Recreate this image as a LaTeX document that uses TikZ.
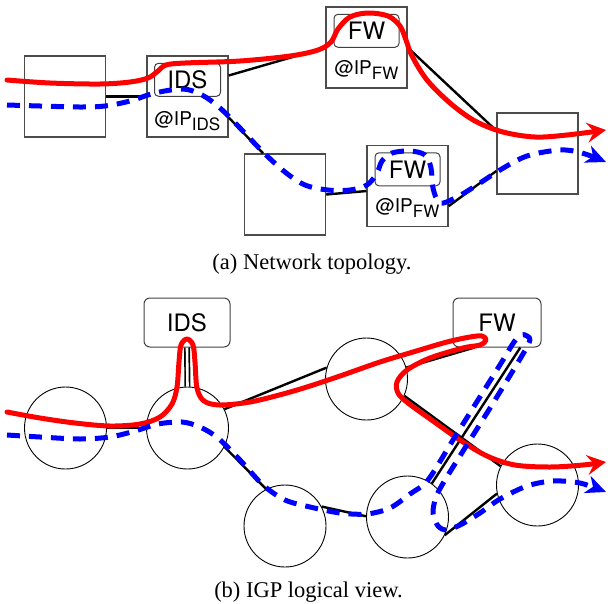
\documentclass[tikz,border=0pt]{standalone}
\usepackage{fontspec}
\setmainfont{Liberation Serif}
\newfontfamily\hv{TeX Gyre Heros}
\usetikzlibrary{calc,arrows.meta}
\newcommand\ipsub[1]{\raisebox{-5pt}{\fontsize{17}{20}\selectfont #1}}
\begin{document}
\begin{tikzpicture}[x=1pt,y=-1pt,
  box/.style={draw=black!70, line width=1.4pt, minimum width=81pt, minimum height=81pt, inner sep=0pt},
  inbox/.style={draw=black!75, line width=1pt, rounded corners=4pt, minimum width=66pt, minimum height=33pt, inner sep=0pt, font=\hv\fontsize{24}{28}\selectfont},
  addr/.style={anchor=base, inner sep=0pt, font=\hv\fontsize{19}{22}\selectfont},
  router/.style={draw, circle, line width=0.9pt, minimum size=82pt, inner sep=0pt},
  fnbox/.style={draw=black!75, line width=1pt, rounded corners=6pt, minimum height=49pt, inner sep=0pt, font=\hv\fontsize{24}{28}\selectfont},
  link/.style={line width=2.4pt},
  dlink/.style={line width=1.7pt, double, double distance=2.6pt},
  redpath/.style={red, line width=5pt, line cap=round, line join=round, -{Stealth[length=19pt,width=20pt,inset=7pt]}},
  bluepath/.style={blue, line width=5pt, dash pattern=on 13pt off 9pt, line join=round, -{Stealth[length=20pt,width=18pt,inset=6pt]}},
  caption/.style={anchor=base, inner sep=0pt, font=\fontsize{22.5}{26}\selectfont}
]
\useasboundingbox (0,0) rectangle (608,603);

% ---------- (a) network topology ----------
\node[box] (a) at (65,96.5) {};
\node[box] (ids) at (187.5,96.5) {};
\node[box] (c) at (285,194.5) {};
\node[box] (fwt) at (366.5,47.5) {};
\node[box] (fwl) at (407.5,186) {};
\node[box] (e) at (537.5,153.5) {};

\node[inbox] (idsi) at ($(ids.north)+(0,24.5)$) {IDS};
\node[inbox, minimum width=65pt] (fwti) at ($(fwt.north)+(0,24.5)$) {FW};
\node[inbox, minimum width=65pt] (fwli) at ($(fwl.north)+(0,24.5)$) {FW};
\node[addr] (idsa) at ($(ids.north)+(0,70)$) {@IP\ipsub{IDS}};
\node[addr] (fwta) at ($(fwt.north)+(0,68)$) {@IP\ipsub{FW}};
\node[addr] (fwla) at ($(fwl.north)+(0,68)$) {@IP\ipsub{FW}};

\draw[link] (a.east) -- (ids.west);
\draw[link] (ids.27) -- (fwt.west);
\draw[link] (ids.-27) -- (c.118);
\draw[link] (c.east) -- (fwl.187);
\draw[link] (fwl.-26) -- (e.203);
\draw[link] (fwt.east) -- (e.151);

\draw[redpath] plot[smooth, tension=0.55] coordinates {
 (7,80) (50,83) (100,84) (130,82) (148,78) (158,71) (166,65) (185,63) (240,61) (290,56)
 (318,50) (331,42) (338,29) (350,17) (368,13) (388,16) (400,26) (406,40) (412,56) (427,80)
 (450,103) (475,121) (503,132) (535,137) (567,135) (606,130)};

\draw[bluepath] plot[smooth, tension=0.55] coordinates {
 (7,105) (40,106) (80,107) (105,106) (130,101) (155,93) (183,89) (202,95) (220,108) (240,128)
 (263,152) (285,172) (305,185) (328,190) (350,190) (367,185) (377,173) (382,161) (392,153)
 (410,151) (425,155) (431,168) (433,188) (440,203) (457,197) (477,185) (500,170) (527,156)
 (560,150) (582,153) (606,162)};

\node[caption] (capa) at (312,269) {(a) Network topology.};

% ---------- (b) IGP logical view ----------
\node[router] (c1) at (65.5,428) {};
\node[router] (c2) at (187.5,428) {};
\node[router] (c3) at (285,526) {};
\node[router] (c4) at (366.5,379) {};
\node[router] (c5) at (407.5,517) {};
\node[router] (c6) at (537.5,485) {};
\node[fnbox, minimum width=86pt] (idsb) at (187,322.5) {IDS};
\node[fnbox, minimum width=88pt] (fwb) at (497,322.5) {FW};

\draw[link] (c1.east) -- (c2.west);
\draw[dlink] (idsb.south) -- (c2.north);
\draw[link] (c2.27) -- (c4.164);
\draw[link] (c2.-27) -- (c3.117);
\draw[link] (c3.28) -- (c5.179);
\draw[link] (c4.16) -- (fwb.228);
\draw[link] (c4.-24) -- (c6.153);
\draw[link] (c5.54) -- (fwb.-47);
\draw[link] (c5.-26) -- (c6.192);

\draw[redpath] plot[smooth, tension=0.55] coordinates {
 (7,412) (40,418) (75,423) (110,426) (140,424) (160,417) (172,404) (177,387) (179,362)
 (181,345) (187,339) (193,345) (195,362) (197,388) (204,401) (220,405) (250,402) (283,394)
 (310,386) (340,376) (380,362) (413,352) (447,342) (470,337) (482,336) (486,340) (480,345)
 (463,348) (430,358) (407,370) (397,382) (398,393) (408,403) (433,421) (460,440) (487,456)
 (515,465) (550,467) (583,465) (606,462)};

\draw[bluepath] plot[smooth, tension=0.5] coordinates {
 (7,435) (40,437) (80,439) (110,437) (135,431) (158,424) (182,422) (200,427) (218,438)
 (240,460) (263,485) (285,500) (310,507) (340,513) (367,514) (390,508) (410,494) (428,480)
 (453,440) (478,400) (503,360) (514,342) (521,335) (527,336) (528,345) (495,400) (470,440)
 (445,480) (436,497) (433,513) (438,526) (447,530) (462,524) (480,513) (500,499) (527,486)
 (553,481) (580,483) (606,492)};

\node[caption] (capb) at (308.5,597.5) {(b) IGP logical view.};
\end{tikzpicture}
\end{document}
